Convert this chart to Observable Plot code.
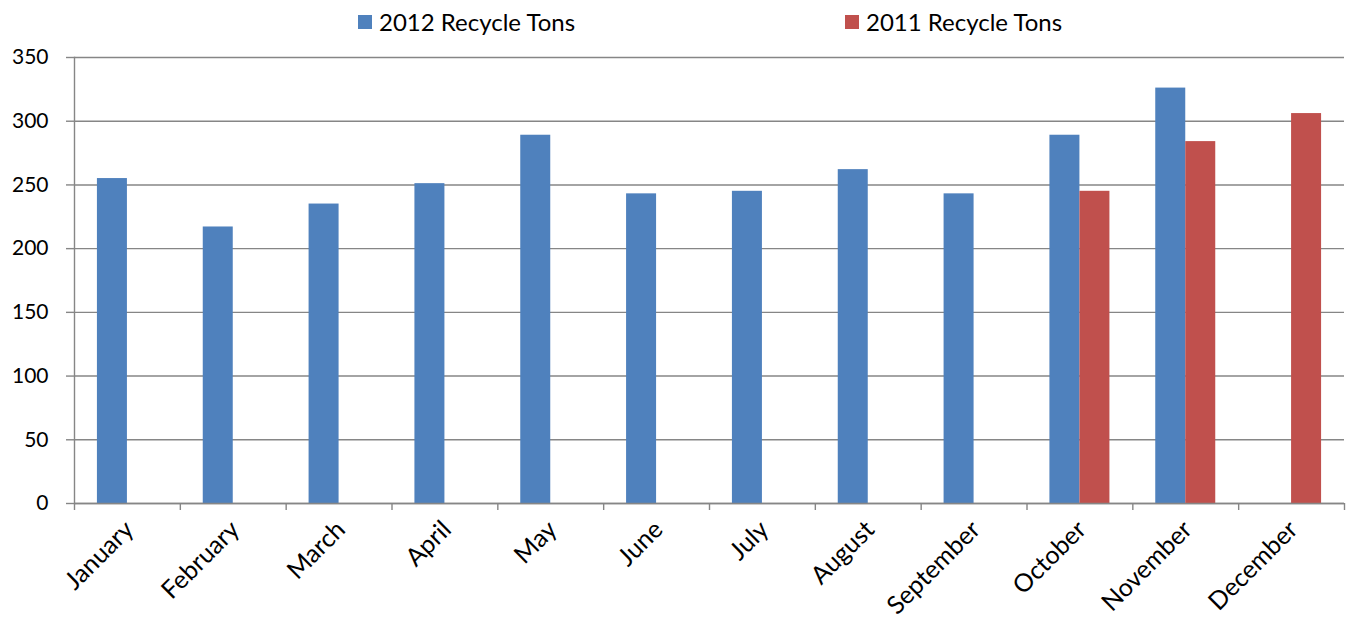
<!DOCTYPE html>
<html>
<head>
<meta charset="utf-8">
<script src="https://cdn.jsdelivr.net/npm/d3@7"></script>
<script src="https://cdn.jsdelivr.net/npm/@observablehq/plot@0.6"></script>
<style>
  body { margin: 0; background: #fff; font-family: Lato, "Noto Sans", sans-serif; }
  #legend { height: 40px; position: relative; font-size: 24px; color: #000; }
  .item { position: absolute; top: 7px; display: flex; align-items: center; white-space: nowrap; }
  .sw { width: 14px; height: 14px; margin-right: 7px; }
</style>
</head>
<body>
<div id="legend"></div>
<div id="chart"></div>
<script>
const months = ["January","February","March","April","May","June","July","August","September","October","November","December"];
const tons2012 = [255, 217, 235, 251, 289, 243, 245, 262, 243, 289, 326, null];
const tons2011 = [null, null, null, null, null, null, null, null, null, 245, 284, 306];
const seriesNames = ["2012 Recycle Tons", "2011 Recycle Tons"];
const seriesColors = ["#4F81BD", "#C0504D"];
const yTicks = [0, 50, 100, 150, 200, 250, 300, 350];

const legend = document.getElementById("legend");
const legendX = [358, 845];
seriesNames.forEach((name, i) => {
  const it = document.createElement("div");
  it.className = "item";
  it.style.left = legendX[i] + "px";
  it.innerHTML = `<span class="sw" style="background:${seriesColors[i]}"></span><span>${name}</span>`;
  legend.appendChild(it);
});

const d2012 = months.map((m, i) => ({month: m, value: tons2012[i]})).filter(d => d.value != null);
const d2011 = months.map((m, i) => ({month: m, value: tons2011[i]})).filter(d => d.value != null);

const W = 1348, ML = 74, MR = 4;
const half = (W - ML - MR) / months.length / 2;
const grid = "#868686";

const chart = Plot.plot({
  width: W,
  height: 582,
  marginTop: 17,
  marginBottom: 119,
  marginLeft: ML,
  marginRight: MR,
  style: {fontFamily: "Lato, 'Noto Sans', sans-serif", fontSize: "20px", color: "#000", background: "#fff"},
  x: {domain: months, padding: 0, round: false, label: null, axis: null},
  y: {domain: [0, 350], label: null, axis: null},
  marks: [
    Plot.gridY(yTicks, {stroke: grid, strokeOpacity: 1, strokeWidth: 1.4}),
    Plot.barY(d2012, {x: "month", y: "value", fill: seriesColors[0], insetLeft: half - 30, insetRight: half}),
    Plot.barY(d2011, {x: "month", y: "value", fill: seriesColors[1], insetLeft: half, insetRight: half - 30}),
    Plot.ruleY([0], {stroke: grid, strokeWidth: 1.4}),
    Plot.frame({anchor: "left", stroke: grid, strokeWidth: 1.4}),
    Plot.axisY({ticks: yTicks, tickSize: 8, tickPadding: 18, stroke: grid, strokeWidth: 1.4, fontSize: 21}),
    Plot.axisX({tickSize: 0, tickPadding: 22, tickRotate: -45, dx: 2, fontSize: 25}),
    Plot.axisX({ticks: months, tickSize: 7, tickFormat: () => "", dx: -half, stroke: grid, strokeWidth: 1.4}),
    Plot.axisX({ticks: [months[months.length - 1]], tickSize: 7, tickFormat: () => "", dx: half, stroke: grid, strokeWidth: 1.4})
  ]
});
document.getElementById("chart").appendChild(chart);
</script>
</body>
</html>
